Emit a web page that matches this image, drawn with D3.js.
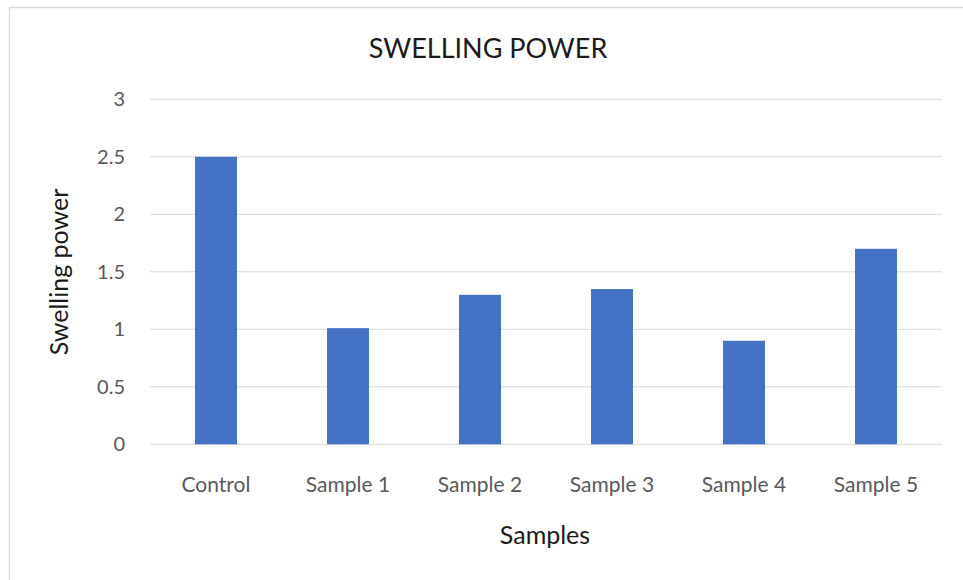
<!DOCTYPE html>
<html>
<head>
<meta charset="utf-8">
<script src="https://cdn.jsdelivr.net/npm/d3@7"></script>
<style>
  body { margin: 0; background: #fff; }
  svg { display: block; }
  text { font-family: Lato, "Open Sans", sans-serif; }
</style>
</head>
<body>
<svg id="chart" width="963" height="580"></svg>
<script>
const categories = ["Control", "Sample 1", "Sample 2", "Sample 3", "Sample 4", "Sample 5"];
const values = [2.5, 1.01, 1.3, 1.35, 0.9, 1.7];
const yTicks = [0, 0.5, 1, 1.5, 2, 2.5, 3];
const titleText = "SWELLING POWER";
const xTitle = "Samples";
const yTitle = "Swelling power";

const svg = d3.select("#chart");
const W = 963, H = 580;
const margin = { left: 150, right: 21, top: 99.3, bottom: 135.7 };
const innerW = W - margin.left - margin.right;
const innerH = H - margin.top - margin.bottom;

// outer border (only left/top visible in reference)
svg.append("rect").attr("x", 9.5).attr("y", 7.5).attr("width", 980).attr("height", 600)
  .attr("fill", "none").attr("stroke", "#d9d9d9").attr("stroke-width", 1.5);

const g = svg.append("g").attr("transform", `translate(${margin.left},${margin.top})`);

const x = d3.scaleBand().domain(categories).range([0, innerW]).paddingInner(0.682).paddingOuter(0.341);
const y = d3.scaleLinear().domain([0, 3]).range([innerH, 0]);

// gridlines
g.append("g").selectAll("line").data(yTicks).join("line")
  .attr("x1", 0).attr("x2", innerW)
  .attr("y1", d => y(d)).attr("y2", d => y(d))
  .attr("stroke", "#d9d9d9").attr("stroke-width", 1);

// y axis labels
const yAxis = d3.axisLeft(y).tickValues(yTicks).tickSize(0).tickPadding(25).tickFormat(d => String(d));
g.append("g").call(yAxis)
  .call(s => s.select(".domain").remove())
  .call(s => s.selectAll("text").attr("fill", "#595959").style("font-size", "20px").style("font-family", "Lato, 'Open Sans', sans-serif"));

// bars
g.append("g").selectAll("rect").data(values).join("rect")
  .attr("x", (d, i) => x(categories[i]))
  .attr("width", x.bandwidth())
  .attr("y", d => y(d))
  .attr("height", d => y(0) - y(d))
  .attr("fill", "#4472c4");

// x axis labels
const xAxis = d3.axisBottom(x).tickSize(0).tickPadding(33);
g.append("g").attr("transform", `translate(0,${innerH})`).call(xAxis)
  .call(s => s.select(".domain").remove())
  .call(s => s.selectAll("text").attr("fill", "#595959").style("font-size", "21px").style("font-family", "Lato, 'Open Sans', sans-serif"));

// title
svg.append("text").attr("x", 488).attr("y", 58).attr("text-anchor", "middle")
  .attr("fill", "#1a1a1a").style("font-size", "27px").text(titleText);

// axis titles
svg.append("text").attr("x", 545).attr("y", 544).attr("text-anchor", "middle")
  .attr("fill", "#1a1a1a").style("font-size", "25px").text(xTitle);
svg.append("text").attr("transform", "translate(68,272) rotate(-90)").attr("text-anchor", "middle")
  .attr("fill", "#1a1a1a").style("font-size", "25px").text(yTitle);
</script>
</body>
</html>
